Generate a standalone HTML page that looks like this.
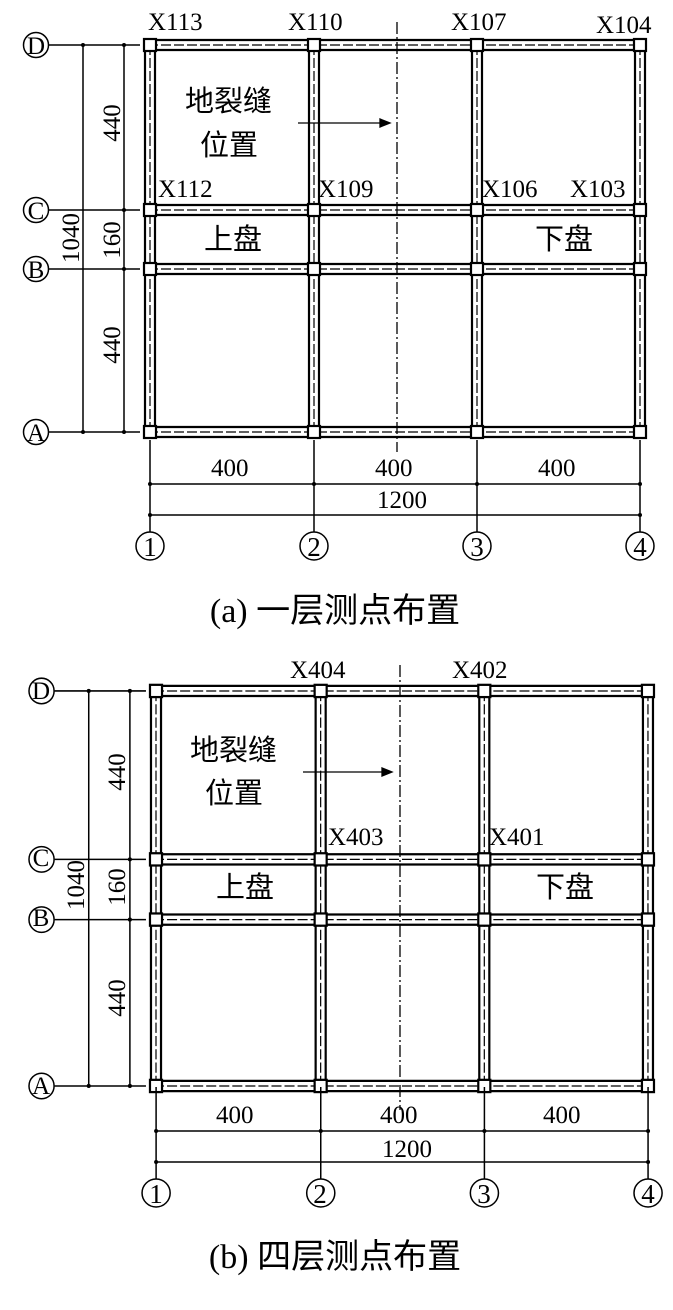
<!DOCTYPE html>
<html><head><meta charset="utf-8"><style>
body{margin:0;background:#fff}
svg{display:block}
text{font-family:"Liberation Serif","Noto Serif CJK SC",serif;fill:#000}
.cj{font-family:"Liberation Serif","Noto Sans CJK SC",sans-serif}
</style></head><body>
<svg width="673" height="1310" viewBox="0 0 673 1310" xmlns="http://www.w3.org/2000/svg">
<defs>
<g id="grid" stroke="#000" fill="none">
  <g stroke-width="2.2">
    <line x1="145" y1="40" x2="646" y2="40"/><line x1="145" y1="50" x2="646" y2="50"/>
    <line x1="145" y1="205" x2="646" y2="205"/><line x1="145" y1="215" x2="646" y2="215"/>
    <line x1="145" y1="264" x2="646" y2="264"/><line x1="145" y1="274" x2="646" y2="274"/>
    <line x1="145" y1="427" x2="646" y2="427"/><line x1="145" y1="437" x2="646" y2="437"/>
    <line x1="145" y1="40" x2="145" y2="437"/><line x1="155" y1="40" x2="155" y2="437"/>
    <line x1="309" y1="40" x2="309" y2="437"/><line x1="319" y1="40" x2="319" y2="437"/>
    <line x1="472" y1="40" x2="472" y2="437"/><line x1="482" y1="40" x2="482" y2="437"/>
    <line x1="635" y1="40" x2="635" y2="437"/><line x1="645" y1="40" x2="645" y2="437"/>
  </g>
  <g stroke-width="1.2" stroke-dasharray="10 3">
    <line x1="148" y1="45" x2="642" y2="45"/><line x1="148" y1="210" x2="642" y2="210"/>
    <line x1="148" y1="269" x2="642" y2="269"/><line x1="148" y1="432" x2="642" y2="432"/>
    <line x1="150" y1="45" x2="150" y2="432"/><line x1="314" y1="45" x2="314" y2="432"/>
    <line x1="477" y1="45" x2="477" y2="432"/><line x1="640" y1="45" x2="640" y2="432"/>
  </g>
  <g stroke-width="2.2" fill="#fff">
    <rect x="144" y="39" width="12" height="12"/><rect x="308" y="39" width="12" height="12"/><rect x="471" y="39" width="12" height="12"/><rect x="634" y="39" width="12" height="12"/>
    <rect x="144" y="204" width="12" height="12"/><rect x="308" y="204" width="12" height="12"/><rect x="471" y="204" width="12" height="12"/><rect x="634" y="204" width="12" height="12"/>
    <rect x="144" y="263" width="12" height="12"/><rect x="308" y="263" width="12" height="12"/><rect x="471" y="263" width="12" height="12"/><rect x="634" y="263" width="12" height="12"/>
    <rect x="144" y="426" width="12" height="12"/><rect x="308" y="426" width="12" height="12"/><rect x="471" y="426" width="12" height="12"/><rect x="634" y="426" width="12" height="12"/>
  </g>
  <g stroke-width="1.5">
    <line x1="49" y1="45" x2="140" y2="45"/><line x1="49" y1="210" x2="140" y2="210"/>
    <line x1="49" y1="269" x2="140" y2="269"/><line x1="49" y1="432" x2="140" y2="432"/>
    <line x1="83" y1="45" x2="83" y2="432"/><line x1="124" y1="45" x2="124" y2="432"/>
  </g>
  <g fill="#000" stroke="none">
    <circle cx="83" cy="45" r="2"/><circle cx="83" cy="432" r="2"/>
    <circle cx="124" cy="45" r="2"/><circle cx="124" cy="210" r="2"/><circle cx="124" cy="269" r="2"/><circle cx="124" cy="432" r="2"/>
  </g>
  <g stroke-width="1.5">
    <circle cx="36" cy="45" r="12.5"/><circle cx="36" cy="210" r="12.5"/><circle cx="36" cy="269" r="12.5"/><circle cx="36" cy="432" r="12.5"/>
  </g>
</g>
<g id="bot" stroke="#000" fill="none">
  <g stroke-width="1.5">
    <line x1="150" y1="440" x2="150" y2="532"/><line x1="314" y1="440" x2="314" y2="532"/>
    <line x1="477" y1="440" x2="477" y2="532"/><line x1="640" y1="440" x2="640" y2="532"/>
    <line x1="150" y1="484" x2="640" y2="484"/><line x1="150" y1="515" x2="640" y2="515"/>
    <circle cx="150" cy="546" r="14"/><circle cx="314" cy="546" r="14"/><circle cx="477" cy="546" r="14"/><circle cx="640" cy="546" r="14"/>
  </g>
  <g fill="#000" stroke="none">
    <circle cx="150" cy="484" r="2"/><circle cx="314" cy="484" r="2"/><circle cx="477" cy="484" r="2"/><circle cx="640" cy="484" r="2"/>
    <circle cx="150" cy="515" r="2"/><circle cx="640" cy="515" r="2"/>
  </g>
</g>
</defs>

<use href="#grid"/>
<use href="#bot"/>
<use href="#grid" transform="translate(5.4 644) scale(1.004 1.0207) translate(0 1)"/>
<use href="#bot" transform="translate(5.5 647) scale(1.004 1)"/>

<g stroke="#000" stroke-width="1.3">
  <line x1="397" y1="22" x2="397" y2="452" stroke-dasharray="12 3 2 3"/>
  <line x1="298" y1="123" x2="384" y2="123"/>
  <polygon points="390,123 380,119 380,127" fill="#000"/>
  <line x1="400" y1="665" x2="400" y2="1110" stroke-dasharray="12 3 2 3"/>
  <line x1="303" y1="772" x2="386" y2="772"/>
  <polygon points="392,772 382,768 382,776" fill="#000"/>
</g>

<g font-size="25">
<text x="148" y="30">X113</text><text x="288" y="30">X110</text><text x="451" y="30">X107</text><text x="596" y="33">X104</text>
<text x="158" y="197">X112</text><text x="318" y="197">X109</text><text x="482" y="197">X106</text><text x="570" y="197">X103</text>
<text x="211" y="476">400</text><text x="375" y="476">400</text><text x="538" y="476">400</text><text x="377" y="508">1200</text>
</g>
<g font-size="29">
<text x="185" y="111" class="cj">地裂缝</text><text x="200" y="155" class="cj">位置</text>
<text x="204" y="249" class="cj">上盘</text><text x="535" y="249" class="cj">下盘</text>
</g>
<g font-size="25" text-anchor="middle">
<text transform="translate(120 123) rotate(-90)">440</text>
<text transform="translate(120 240) rotate(-90)">160</text>
<text transform="translate(120 345) rotate(-90)">440</text>
<text transform="translate(79 238) rotate(-90)">1040</text>
<text x="36" y="54" font-size="25">D</text><text x="36" y="219" font-size="25">C</text><text x="36" y="278" font-size="25">B</text><text x="36" y="441" font-size="25">A</text>
<text x="150" y="556" font-size="27">1</text><text x="314" y="556" font-size="27">2</text><text x="477" y="556" font-size="27">3</text><text x="640" y="556" font-size="27">4</text>
</g>
<text x="335" y="622" font-size="34" text-anchor="middle" class="cj">(a) 一层测点布置</text>

<g font-size="25">
<text x="290" y="678">X404</text><text x="452" y="678">X402</text>
<text x="328" y="845">X403</text><text x="489" y="845">X401</text>
<text x="216" y="1123">400</text><text x="380" y="1123">400</text><text x="543" y="1123">400</text><text x="382" y="1157">1200</text>
</g>
<g font-size="29">
<text x="190" y="760" class="cj">地裂缝</text><text x="205" y="803" class="cj">位置</text>
<text x="216" y="897" class="cj">上盘</text><text x="536" y="897" class="cj">下盘</text>
</g>
<g font-size="25" text-anchor="middle">
<text transform="translate(125 772) rotate(-90)">440</text>
<text transform="translate(125 887) rotate(-90)">160</text>
<text transform="translate(125 998) rotate(-90)">440</text>
<text transform="translate(84 885) rotate(-90)">1040</text>
<text x="41" y="699" font-size="25">D</text><text x="41" y="866" font-size="25">C</text><text x="41" y="926" font-size="25">B</text><text x="41" y="1094" font-size="25">A</text>
<text x="156" y="1203" font-size="27">1</text><text x="320" y="1203" font-size="27">2</text><text x="484" y="1203" font-size="27">3</text><text x="648" y="1203" font-size="27">4</text>
</g>
<text x="335" y="1268" font-size="34" text-anchor="middle" class="cj">(b) 四层测点布置</text>
</svg>
</body></html>
